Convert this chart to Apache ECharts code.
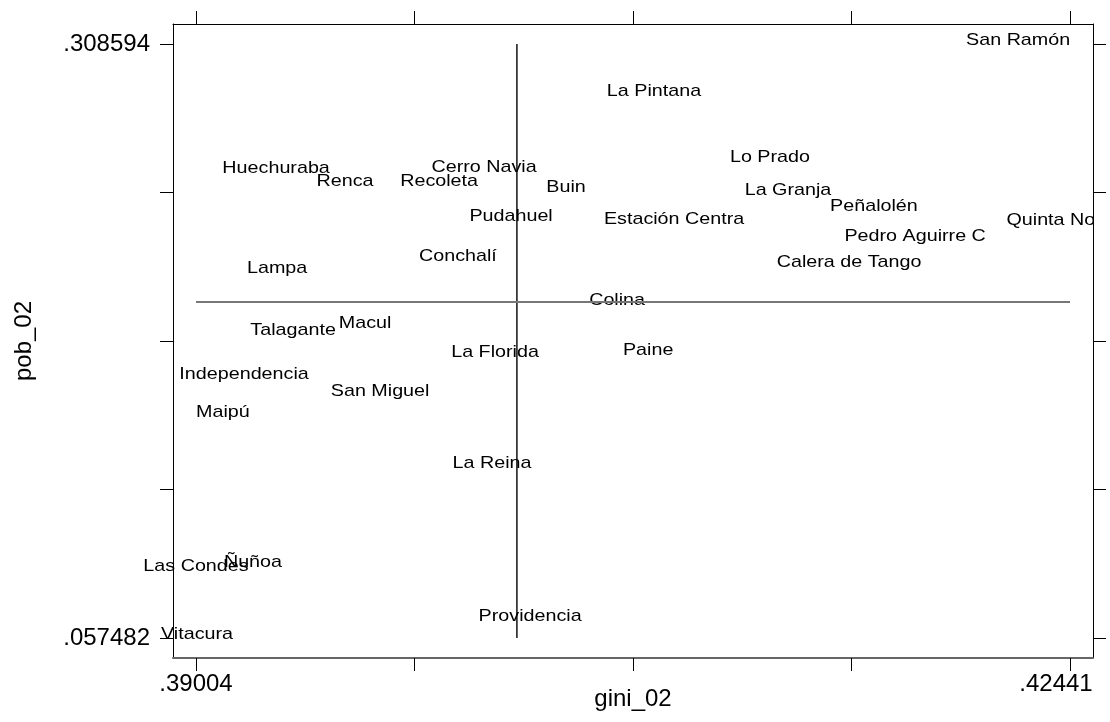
<!DOCTYPE html>
<html>
<head>
<meta charset="utf-8">
<script src="https://cdn.jsdelivr.net/npm/echarts@6/dist/echarts.min.js"></script>
<style>
  html, body { margin: 0; padding: 0; background: #fff; }
  #chart { width: 1110px; height: 722px; }
</style>
</head>
<body>
<div id="chart"></div>
<script>
// comunas (labels sit centred on each point)
const comunas = ['San Ramón', 'La Pintana', 'Huechuraba', 'Renca', 'Cerro Navia', 'Recoleta', 'Buin',
  'Pudahuel', 'Estación Centra', 'Lo Prado', 'La Granja', 'Peñalolén', 'Quinta Normal', 'Pedro Aguirre C',
  'Calera de Tango', 'Conchalí', 'Lampa', 'Colina', 'Talagante', 'Macul', 'La Florida', 'Paine',
  'Independencia', 'San Miguel', 'Maipú', 'La Reina', 'Las Condes', 'Ñuñoa', 'Vitacura', 'Providencia'];
const gini02 = [0.42237, 0.40805, 0.39319, 0.39590, 0.40137, 0.39960, 0.40459,
  0.40243, 0.40884, 0.41261, 0.41332, 0.41670, 0.42441, 0.41832,
  0.41572, 0.40034, 0.39323, 0.40660, 0.39386, 0.39669, 0.40180, 0.40782,
  0.39193, 0.39728, 0.39110, 0.40168, 0.39004, 0.39228, 0.39008, 0.40318];
const pob02 = [0.308594, 0.28704, 0.25448, 0.24899, 0.25490, 0.24899, 0.24645,
  0.23419, 0.23292, 0.25913, 0.24518, 0.23842, 0.23250, 0.22573,
  0.21474, 0.21728, 0.21221, 0.19868, 0.18600, 0.18896, 0.17670, 0.17754,
  0.16740, 0.16021, 0.15133, 0.12977, 0.08623, 0.08792, 0.057482, 0.06509];

// mean lines
const meanGini = 0.40266;
const meanPob = 0.19952;

// ticks: 5 evenly spaced, only min and max labelled
const xTicks = [0.39004, 0.3986325, 0.407225, 0.4158175, 0.42441];
const xLabels = [0.39004, 0.42441];
const yTicks = [0.057482, 0.12026, 0.183038, 0.245816, 0.308594];
const yLabels = [0.057482, 0.308594];

const FONT = '"Liberation Sans", Arial, sans-serif';
const xMin = Math.min(...gini02), xMax = Math.max(...gini02);
const yMin = Math.min(...pob02), yMax = Math.max(...pob02);

const chart = echarts.init(document.getElementById('chart'));

function stripZero(v) {
  return String(v).replace(/^0\./, '.');
}

const tickStyle = { show: true, length: 13, lineStyle: { color: '#000', width: 1 } };

chart.setOption({
  animation: false,
  grid: { left: 173, right: 17, top: 24, bottom: 64, outerBoundsMode: 'none', containLabel: false },
  xAxis: [
    {
      type: 'value', position: 'bottom',
      min: 0.389136, max: 0.425314,
      splitLine: { show: false },
      axisLine: { show: true, lineStyle: { color: '#666', width: 2 } },
      axisTick: Object.assign({ customValues: xTicks }, tickStyle),
      axisLabel: {
        customValues: xLabels, margin: 14, color: '#000',
        fontSize: 24, fontFamily: FONT,
        formatter: function (v) {
          if (v === xLabels[1]) return '{r|' + stripZero(v) + '}';
          return stripZero(v);
        },
        rich: { r: { fontSize: 24, fontFamily: FONT, color: '#000', padding: [0, 28, 0, 0] } }
      },
      name: 'gini_02', nameLocation: 'middle', nameGap: 29, nameMoveOverlap: false,
      nameTextStyle: { fontSize: 24, fontFamily: FONT, color: '#000' }
    },
    {
      type: 'value', position: 'top',
      min: 0.389136, max: 0.425314,
      splitLine: { show: false },
      axisLine: { show: true, lineStyle: { color: '#000', width: 1 } },
      axisTick: Object.assign({ customValues: xTicks }, tickStyle),
      axisLabel: { show: false }
    }
  ],
  yAxis: [
    {
      type: 'value', position: 'left',
      min: 0.049027, max: 0.317049,
      splitLine: { show: false },
      axisLine: { show: true, lineStyle: { color: '#000', width: 1 } },
      axisTick: Object.assign({ customValues: yTicks }, tickStyle),
      axisLabel: {
        customValues: yLabels, margin: 23, color: '#000',
        fontSize: 24, fontFamily: FONT, padding: [7, 0, 0, 0],
        formatter: stripZero
      },
      name: 'pob_02', nameLocation: 'middle', nameGap: 137, nameMoveOverlap: false,
      nameTextStyle: { fontSize: 24, fontFamily: FONT, color: '#000' }
    },
    {
      type: 'value', position: 'right',
      min: 0.049027, max: 0.317049,
      splitLine: { show: false },
      axisLine: { show: true, lineStyle: { color: '#000', width: 1 } },
      axisTick: Object.assign({ customValues: yTicks }, tickStyle),
      axisLabel: { show: false }
    }
  ],
  series: [
    {
      type: 'line', silent: true, showSymbol: false,
      lineStyle: { color: '#000', width: 1.4 },
      data: [[meanGini, yMin], [meanGini, yMax]]
    },
    {
      type: 'line', silent: true, showSymbol: false,
      lineStyle: { color: '#777', width: 2 },
      data: [[xMin, meanPob], [xMax, meanPob]]
    },
    {
      type: 'custom',
      clip: false,
      data: gini02.map((g, i) => [g, pob02[i]]),
      renderItem: function (params, api) {
        const p = api.coord([api.value(0), api.value(1)]);
        const cs = params.coordSys;
        return {
          type: 'group',
          // Stata cut the label at the right frame only
          clipPath: { type: 'rect', shape: { x: 0, y: 0, width: cs.x + cs.width, height: 722 } },
          children: [{
            type: 'text',
            x: p[0], y: p[1] - 3.5,
            scaleX: 1.16,
            style: {
              text: comunas[params.dataIndex],
              align: 'center', verticalAlign: 'middle',
              fontSize: 17, fontFamily: FONT, fill: '#000'
            }
          }]
        };
      }
    }
  ]
});
</script>
</body>
</html>
